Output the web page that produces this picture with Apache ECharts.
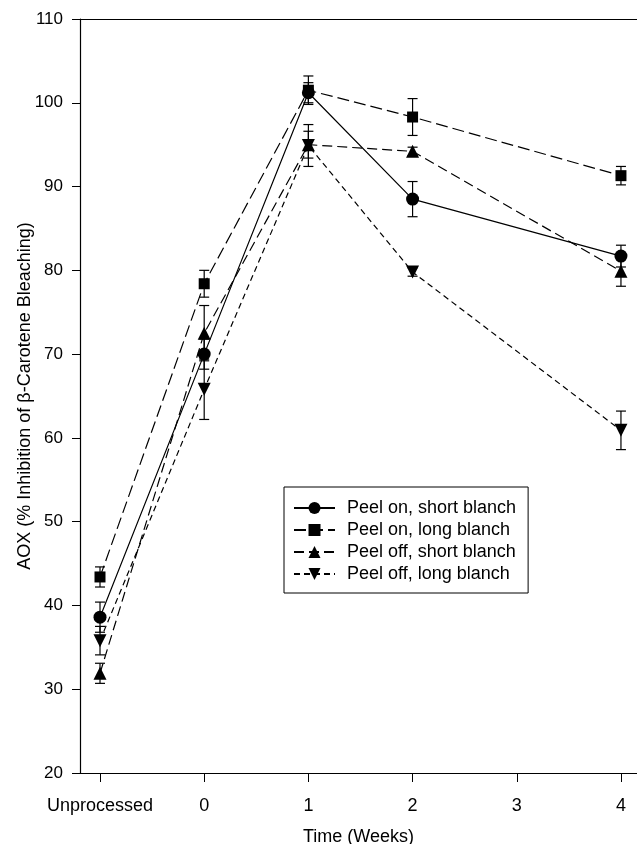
<!DOCTYPE html>
<html>
<head>
<meta charset="utf-8">
<script src="https://cdn.jsdelivr.net/npm/echarts@6/dist/echarts.min.js"></script>
<style>html,body{margin:0;padding:0;background:#fff;}#c{width:637px;height:844px;}</style>
</head>
<body>
<div id="c"></div>
<script>
// ---- data ----
var xPositions = [-1, 0, 1, 2, 4];
var xTickValues = [-1, 0, 1, 2, 3, 4];
var xTickLabels = ['Unprocessed', '0', '1', '2', '3', '4'];
var seriesNames = ['Peel on, short blanch', 'Peel on, long blanch', 'Peel off, short blanch', 'Peel off, long blanch'];
var peelOnShort = [38.6, 70.0, 101.2, 88.5, 81.7];
var peelOnShortErr = [1.8, 1.8, 1.2, 2.1, 1.3];
var peelOnLong = [43.4, 78.4, 101.5, 98.3, 91.3];
var peelOnLongErr = [1.2, 1.6, 1.7, 2.2, 1.1];
var peelOffShort = [31.9, 72.5, 95.0, 94.2, 79.9];
var peelOffShortErr = [1.2, 3.3, 1.6, 0.5, 1.8];
var peelOffLong = [35.8, 65.8, 94.9, 79.8, 60.9];
var peelOffLongErr = [1.7, 3.6, 2.5, 0.5, 2.3];

var values = [peelOnShort, peelOnLong, peelOffShort, peelOffLong];
var errors = [peelOnShortErr, peelOnLongErr, peelOffShortErr, peelOffLongErr];
var symbols = ['circle', 'rect', 'triangle', 'triangle'];
var symbolRot = [0, 0, 0, 180];
var symbolSizes = [13, 11, 13, 13];
var dashes = ['solid', [12, 5], [10, 5], [6, 4]];

var FONT = 'Liberation Sans, Arial, sans-serif';
var series = [];
for (var i = 0; i < 4; i++) {
  (function (i) {
    series.push({
      name: seriesNames[i] + ' err',
      type: 'custom',
      z: 1,
      silent: true,
      data: xPositions.map(function (x, k) { return [x, values[i][k] - errors[i][k], values[i][k] + errors[i][k]]; }),
      renderItem: function (params, api) {
        var x = api.value(0);
        var lo = api.coord([x, api.value(1)]);
        var hi = api.coord([x, api.value(2)]);
        var hw = 5;
        var st = { stroke: '#000', lineWidth: 1.2 };
        return {
          type: 'group',
          children: [
            { type: 'line', shape: { x1: lo[0], y1: lo[1], x2: hi[0], y2: hi[1] }, style: st },
            { type: 'line', shape: { x1: lo[0] - hw, y1: lo[1], x2: lo[0] + hw, y2: lo[1] }, style: st },
            { type: 'line', shape: { x1: hi[0] - hw, y1: hi[1], x2: hi[0] + hw, y2: hi[1] }, style: st }
          ]
        };
      }
    });
    series.push({
      name: seriesNames[i],
      type: 'line',
      z: 3,
      data: xPositions.map(function (x, k) { return [x, values[i][k]]; }),
      symbol: symbols[i],
      symbolRotate: symbolRot[i],
      symbolSize: symbolSizes[i],
      showAllSymbol: true,
      itemStyle: { color: '#000', borderWidth: 0 },
      lineStyle: { color: '#000', width: 1.2, type: dashes[i] },
      animation: false
    });
  })(i);
}

var chart = echarts.init(document.getElementById('c'), null, { renderer: 'canvas' });
chart.setOption({
  animation: false,
  backgroundColor: '#fff',
  textStyle: { fontFamily: FONT, color: '#000' },
  grid: { left: 80, right: 0, top: 19, bottom: 71, outerBoundsMode: 'none' },
  legend: {
    data: seriesNames,
    orient: 'vertical',
    left: 284,
    top: 487,
    itemWidth: 41,
    itemHeight: 15,
    itemGap: 4,
    padding: [12, 12, 10, 9],
    borderColor: '#000',
    borderWidth: 1,
    backgroundColor: '#fff',
    textStyle: { fontFamily: FONT, fontSize: 18, color: '#000', padding: [0, 0, 0, 7] }
  },
  xAxis: [{
    type: 'value',
    min: -1.192,
    max: 4.154,
    position: 'bottom',
    name: 'Time (Weeks)',
    nameLocation: 'middle',
    nameGap: 55,
    nameMoveOverlap: false,
    nameTextStyle: { fontFamily: FONT, fontSize: 18, color: '#000' },
    splitLine: { show: false },
    axisLine: { show: true, onZero: false, lineStyle: { color: '#000', width: 1.2 } },
    axisTick: { show: true, length: 9, inside: false, customValues: xTickValues, lineStyle: { color: '#000' } },
    axisLabel: {
      customValues: xTickValues,
      margin: 24,
      fontFamily: FONT, fontSize: 18, color: '#000',
      formatter: function (v) { var idx = xTickValues.indexOf(v); return idx >= 0 ? xTickLabels[idx] : ''; }
    }
  }, {
    type: 'value',
    min: -1.192,
    max: 4.154,
    position: 'top',
    splitLine: { show: false },
    axisLine: { show: true, onZero: false, lineStyle: { color: '#000', width: 1.2 } },
    axisTick: { show: false },
    axisLabel: { show: false }
  }],
  yAxis: {
    type: 'value',
    min: 20,
    max: 110,
    interval: 10,
    name: 'AOX (% Inhibition of \u03B2-Carotene Bleaching)',
    nameLocation: 'middle',
    nameGap: 46,
    nameMoveOverlap: false,
    nameTextStyle: { fontFamily: FONT, fontSize: 18, color: '#000' },
    splitLine: { show: false },
    axisLine: { show: true, onZero: false, lineStyle: { color: '#000', width: 1.2 } },
    axisTick: { show: true, length: 8, lineStyle: { color: '#000' } },
    axisLabel: { margin: 17, fontFamily: FONT, fontSize: 17, color: '#000' }
  },
  series: series
});
</script>
</body>
</html>
